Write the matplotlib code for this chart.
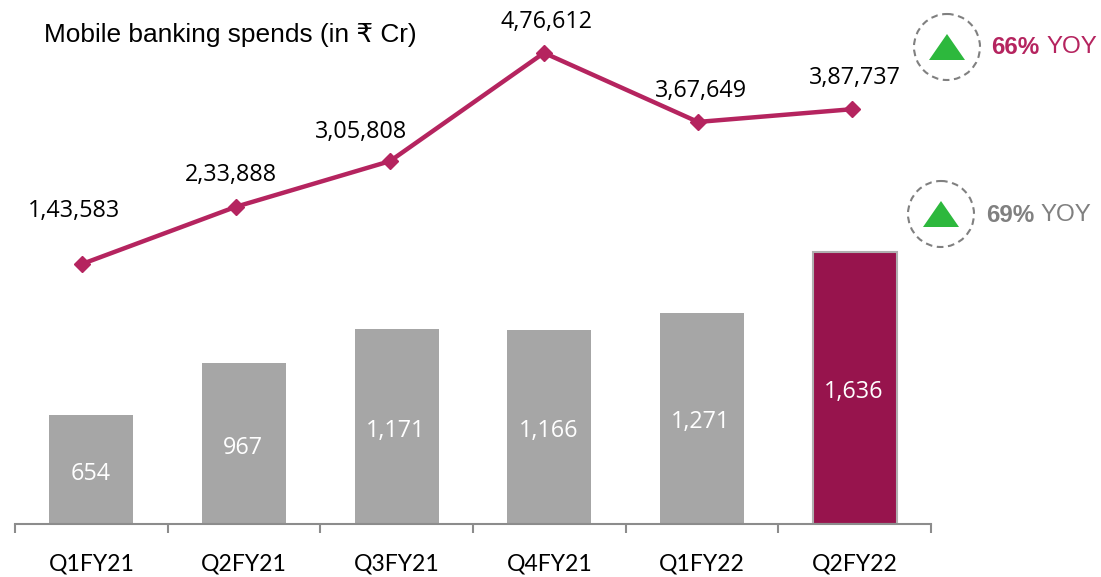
import matplotlib
matplotlib.use('Agg')
import matplotlib.pyplot as plt
import matplotlib.patches as mpatches

W, H = 1101, 577

quarters = ['Q1FY21', 'Q2FY21', 'Q3FY21', 'Q4FY21', 'Q1FY22', 'Q2FY22']
volumes = [654, 967, 1171, 1166, 1271, 1636]
spends = [143583, 233888, 305808, 476612, 367649, 387737]
spend_labels = ['1,43,583', '2,33,888', '3,05,808', '4,76,612', '3,67,649', '3,87,737']

GREY = '#a6a6a6'
MAROON = '#97144d'
LINE = '#b5245f'
GREEN = '#2db83d'

fig = plt.figure(figsize=(W / 100, H / 100), dpi=100)
ax = fig.add_axes([15 / W, 1 - 524 / H, 916 / W, 524 / H])

# bars
colors = [GREY] * 5 + [MAROON]
bars = ax.bar(range(6), volumes, width=0.55, color=colors, zorder=2)
bars[-1].set_edgecolor('#b0b0b0')
bars[-1].set_linewidth(1.5)
ax.set_xlim(-0.5, 5.5)
ax.set_ylim(0, 3151)

for i, v in enumerate(volumes):
    ax.annotate(f'{v:,}', (i, v / 2), xytext=(-1, -4), textcoords='offset pixels',
                ha='center', va='center', color='white', fontsize=16.8, family='Open Sans')

ax.set_xticks([i - 0.5 for i in range(7)], minor=False)
ax.set_xticklabels([])
ax.set_xticks(range(6), minor=True)
ax.set_xticklabels(quarters, minor=True, fontsize=16.6, family='Lato', color='black')
ax.tick_params(axis='x', which='major', length=6.5, width=1.5, color='#8c8c8c')
ax.tick_params(axis='x', which='minor', length=0, pad=21)
ax.set_yticks([])
for s in ['top', 'left', 'right']:
    ax.spines[s].set_visible(False)
ax.spines['bottom'].set_color('#8c8c8c')
ax.spines['bottom'].set_linewidth(1.5)

# the line sits on its own axes, its points do not line up with the bar centres
ax2 = fig.add_axes(ax.get_position(), facecolor='none')
ax2.set_xlim(-0.435, 5.513)
ax2.set_ylim(-266512, 559987)
ax2.axis('off')
ax2.plot(range(6), spends, color=LINE, lw=3.2, marker='D', ms=8, mec=LINE, mfc=LINE, zorder=3)

label_offsets = [(-8, 53), (-5, 32), (-29, 29), (3, 31), (3, 31), (3, 31)]
for i, (v, lab) in enumerate(zip(spends, spend_labels)):
    ax2.annotate(lab, (i, v), xytext=label_offsets[i], textcoords='offset pixels',
                 ha='center', va='center', color='black', fontsize=16.8, family='Open Sans')

# callouts, placed in pixel coordinates
ov = fig.add_axes([0, 0, 1, 1], facecolor='none')
ov.set_xlim(0, W)
ov.set_ylim(H, 0)
ov.axis('off')

ov.text(44, 35, 'Mobile banking spends (in ₹ Cr)', fontsize=18.9, va='center', ha='left',
        family=['Liberation Sans', 'DejaVu Sans'], color='black')

for cx, cy in [(947, 47), (941, 214)]:
    ov.add_patch(mpatches.Circle((cx, cy), 33, fill=False, ec='#808080', lw=1.5, ls=(0, (3.2, 2.2))))
    ov.add_patch(mpatches.Polygon([(cx - 18, cy + 13), (cx + 18, cy + 13), (cx, cy - 13)],
                                  closed=True, color=GREEN, lw=0))

ov.text(991, 47, '66%', fontsize=17.4, fontweight='bold', color=LINE, va='center', ha='left',
        family='Liberation Sans')
ov.text(1047, 47, 'YOY', fontsize=17.4, color=LINE, va='center', ha='left', family='Liberation Sans')
ov.text(986, 215, '69%', fontsize=17.4, fontweight='bold', color='#808080', va='center', ha='left',
        family='Liberation Sans')
ov.text(1041, 215, 'YOY', fontsize=17.4, color='#808080', va='center', ha='left', family='Liberation Sans')

fig.savefig('out.png', dpi=100)
